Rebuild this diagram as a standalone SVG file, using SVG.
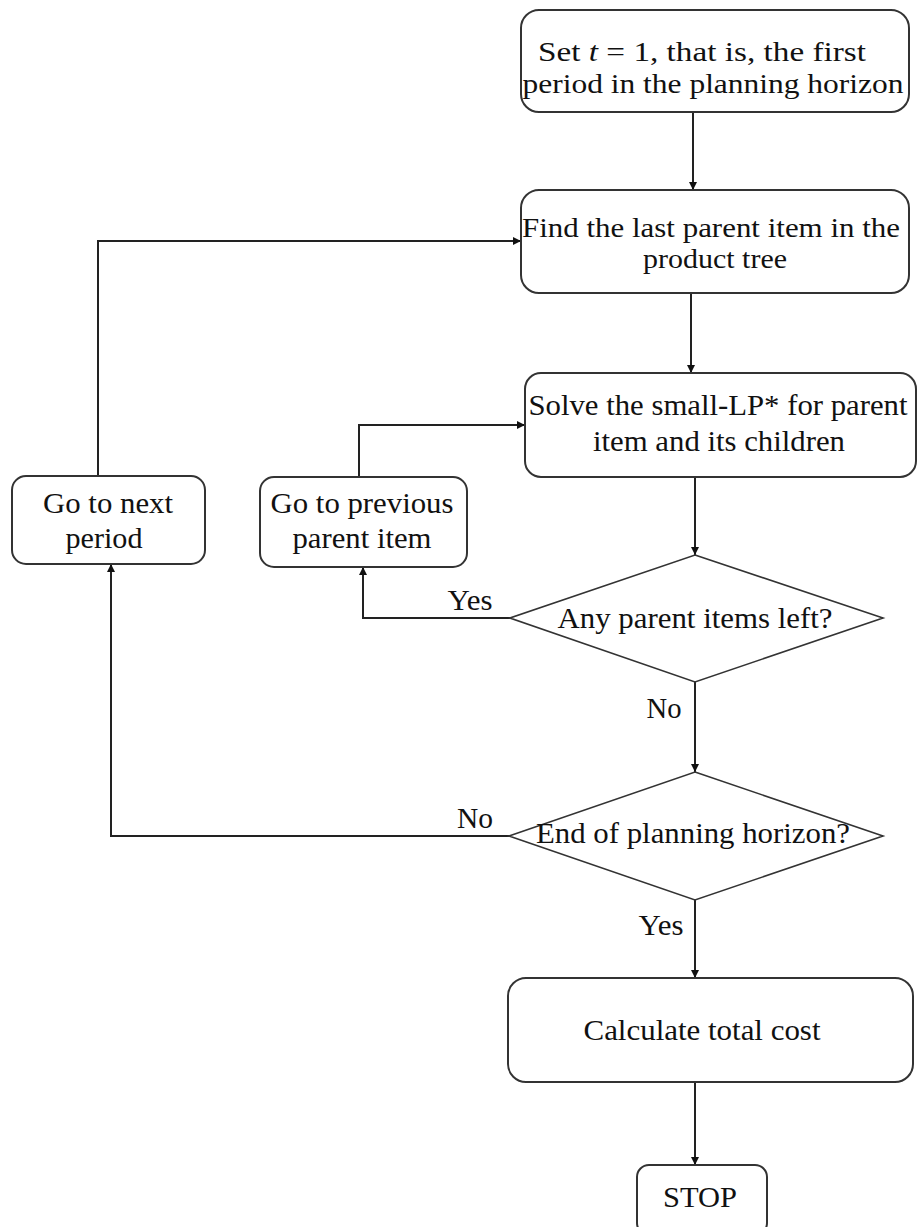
<svg xmlns="http://www.w3.org/2000/svg" width="918" height="1227" viewBox="0 0 918 1227">
<style>
.box{fill:#fff;stroke:#333;stroke-width:2}
.dia{fill:#fff;stroke:#333;stroke-width:1.6}
.t{font-family:"Liberation Serif","Times New Roman",serif;font-size:30px;fill:#111;text-anchor:middle}
.s{font-size:28px}
.c{fill:none;stroke:#222;stroke-width:2}
</style>
<defs>
<marker id="ah" markerUnits="userSpaceOnUse" markerWidth="8" markerHeight="12" refX="8" refY="6" orient="auto">
<path d="M0,2 L8,6 L0,10 z" fill="#111"/>
</marker>
</defs>
<rect width="918" height="1227" fill="#fff"/>
<g id="connectors">
<path class="c" d="M693,112 V190" marker-end="url(#ah)"/>
<path class="c" d="M691,293 V373" marker-end="url(#ah)"/>
<path class="c" d="M695,477 V555" marker-end="url(#ah)"/>
<path class="c" d="M510,618 H363 V567" marker-end="url(#ah)"/>
<path class="c" d="M359,477 V425 H525" marker-end="url(#ah)"/>
<path class="c" d="M695,682 V772" marker-end="url(#ah)"/>
<path class="c" d="M509,836 H111 V564" marker-end="url(#ah)"/>
<path class="c" d="M98,476 V241 H521" marker-end="url(#ah)"/>
<path class="c" d="M695,900 V978" marker-end="url(#ah)"/>
<path class="c" d="M695,1082 V1165" marker-end="url(#ah)"/>
<text class="t" x="470" y="610" textLength="45" lengthAdjust="spacingAndGlyphs">Yes</text>
<text class="t" x="664" y="718" textLength="35" lengthAdjust="spacingAndGlyphs">No</text>
<text class="t" x="475" y="828" textLength="36" lengthAdjust="spacingAndGlyphs">No</text>
<text class="t" x="661" y="935" textLength="45" lengthAdjust="spacingAndGlyphs">Yes</text>
</g>
<g id="start">
<rect class="box" x="521" y="10" width="388" height="102" rx="18"/>
<text class="t s" x="702" y="61" textLength="328" lengthAdjust="spacingAndGlyphs">Set <tspan font-style="italic">t</tspan> = 1, that is, the first</text>
<text class="t s" x="713" y="93" textLength="381" lengthAdjust="spacingAndGlyphs">period in the planning horizon</text>
</g>
<g id="find-last">
<rect class="box" x="521" y="190" width="388" height="103" rx="18"/>
<text class="t s" x="711" y="237" textLength="378" lengthAdjust="spacingAndGlyphs">Find the last parent item in the</text>
<text class="t s" x="715" y="268" textLength="144" lengthAdjust="spacingAndGlyphs">product tree</text>
</g>
<g id="solve">
<rect class="box" x="525" y="373" width="391" height="104" rx="16"/>
<text class="t" x="718" y="415" textLength="379" lengthAdjust="spacingAndGlyphs">Solve the small-LP* for parent</text>
<text class="t" x="719" y="451" textLength="252" lengthAdjust="spacingAndGlyphs">item and its children</text>
</g>
<g id="next-period">
<rect class="box" x="12" y="476" width="193" height="88" rx="14"/>
<text class="t" x="108" y="513" textLength="130" lengthAdjust="spacingAndGlyphs">Go to next</text>
<text class="t" x="104" y="548" textLength="77" lengthAdjust="spacingAndGlyphs">period</text>
</g>
<g id="previous-parent">
<rect class="box" x="260" y="477" width="207" height="90" rx="14"/>
<text class="t" x="362" y="513" textLength="183" lengthAdjust="spacingAndGlyphs">Go to previous</text>
<text class="t" x="362" y="548" textLength="139" lengthAdjust="spacingAndGlyphs">parent item</text>
</g>
<g id="any-left">
<polygon class="dia" points="695,555 883,618 695,682 510,618"/>
<text class="t" x="695" y="628" textLength="275" lengthAdjust="spacingAndGlyphs">Any parent items left?</text>
</g>
<g id="end-horizon">
<polygon class="dia" points="695,772 883,836 695,900 509,836"/>
<text class="t" x="693" y="843" textLength="314" lengthAdjust="spacingAndGlyphs">End of planning horizon?</text>
</g>
<g id="total-cost">
<rect class="box" x="508" y="978" width="405" height="104" rx="18"/>
<text class="t" x="702" y="1040" textLength="237" lengthAdjust="spacingAndGlyphs">Calculate total cost</text>
</g>
<g id="stop">
<rect class="box" x="637" y="1165" width="130" height="70" rx="12"/>
<text class="t" x="700" y="1207" textLength="74" lengthAdjust="spacingAndGlyphs">STOP</text>
</g>
</svg>
